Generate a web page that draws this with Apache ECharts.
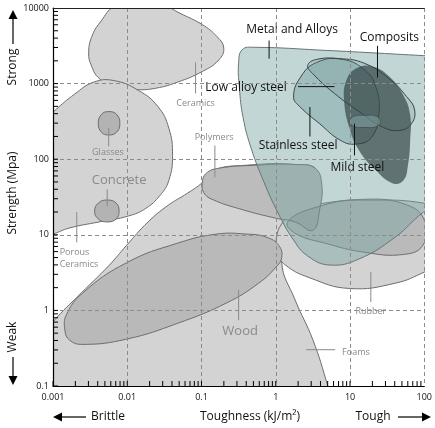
<!DOCTYPE html>
<html>
<head>
<meta charset="utf-8">
<script src="https://cdn.jsdelivr.net/npm/echarts@6/dist/echarts.min.js"></script>
<style>
  html, body { margin: 0; padding: 0; background: #fff; }
  #chart { width: 435px; height: 428px; }
</style>
</head>
<body>
<div id="chart"></div>
<script>
// Axis tick labels
const xTickLabels = ['0.001', '0.01', '0.1', '1', '10', '100'];
const yTickLabels = ['0.1', '1', '10', '100', '1000', '10000'];

// Material property envelopes.
// Each outline point is [log10 toughness (kJ/m²), log10 strength (MPa)].
const ceramicsRegion = [[-2.52,3.41],[-2.47,3.64],[-2.35,3.83],[-2.18,4.02],[-1.88,4.10],[-1.56,4.06],[-1.29,3.93],[-0.99,3.78],[-0.79,3.62],[-0.70,3.47],[-0.77,3.31],[-0.99,3.16],[-1.32,3.02],[-1.61,2.94],[-1.88,2.92],[-2.18,2.96],[-2.38,3.07],[-2.48,3.23]];
const masonryRegion = [[-3.24,2.41],[-2.97,2.65],[-2.71,2.86],[-2.45,3.02],[-2.18,3.04],[-1.85,2.91],[-1.59,2.70],[-1.44,2.41],[-1.39,2.05],[-1.44,1.72],[-1.56,1.52],[-1.75,1.35],[-1.98,1.25],[-2.38,1.17],[-2.78,1.09],[-3.0,1.01],[-3.24,0.95]];
const glassesRegion = [[-2.39,2.47],[-2.35,2.59],[-2.25,2.63],[-2.14,2.59],[-2.10,2.47],[-2.14,2.36],[-2.25,2.32],[-2.35,2.36]];
const concreteRegion = [[-2.44,1.31],[-2.39,1.42],[-2.27,1.46],[-2.15,1.42],[-2.11,1.31],[-2.15,1.21],[-2.27,1.17],[-2.39,1.21]];
const foamsRegion = [[-3.24,-0.46],[-3.0,-0.15],[-2.62,0.23],[-2.25,0.59],[-2.01,0.86],[-1.72,1.17],[-1.45,1.39],[-1.19,1.55],[-0.99,1.69],[-0.85,1.85],[-0.40,1.92],[0.26,1.93],[0.55,1.85],[0.42,1.39],[0.21,0.93],[0.08,0.64],[0.26,0.14],[0.50,-0.39],[0.70,-1.0],[0.74,-1.19],[-3.24,-1.19]];
const rubberRegion = [[0.0,0.90],[0.07,1.13],[0.26,1.30],[0.66,1.42],[1.32,1.46],[1.99,1.42],[2.18,1.33],[2.18,0.60],[2.01,0.51],[1.61,0.36],[0.99,0.29],[0.46,0.43],[0.13,0.60],[0.01,0.77]];
const woodRegion = [[-2.84,-0.26],[-2.78,-0.39],[-2.60,-0.45],[-2.01,-0.38],[-1.32,-0.17],[-0.66,0.10],[-0.23,0.36],[0.0,0.57],[0.08,0.70],[0.04,0.86],[-0.13,0.97],[-0.40,1.01],[-0.79,1.01],[-1.32,0.89],[-2.01,0.63],[-2.60,0.23],[-2.82,-0.06]];
const polymersRegion = [[-0.99,1.68],[-0.94,1.81],[-0.77,1.88],[-0.27,1.92],[0.26,1.93],[0.53,1.88],[0.62,1.66],[0.59,1.33],[0.50,1.06],[0.26,1.17],[0.0,1.22],[-0.44,1.33],[-0.86,1.47],[-0.97,1.56]];
const elastomersRegion = [[0.16,1.17],[0.53,1.36],[1.19,1.47],[1.78,1.39],[2.01,1.17],[1.98,0.86],[1.72,0.74],[1.19,0.77],[0.66,0.89],[0.26,1.02]];
const metalsRegion = [[-0.50,3.28],[-0.45,3.45],[-0.29,3.48],[0.66,3.44],[1.99,3.37],[2.18,3.36],[2.18,1.39],[1.99,1.30],[1.61,0.97],[1.12,0.68],[0.73,0.60],[0.43,0.72],[0.24,0.93],[0.03,1.29],[-0.16,1.70],[-0.33,2.14],[-0.44,2.55],[-0.49,2.95]];
const stainlessRegion = [[0.24,2.82],[0.33,3.08],[0.55,3.28],[0.90,3.32],[1.21,3.17],[1.35,2.95],[1.39,2.61],[1.29,2.29],[1.08,2.20],[0.87,2.25],[0.59,2.47],[0.33,2.69]];
const lowAlloyRegion = [[0.43,3.24],[0.55,3.32],[0.86,3.33],[1.19,3.27],[1.52,3.07],[1.76,2.83],[1.87,2.65],[1.82,2.46],[1.66,2.38],[1.45,2.42],[1.15,2.61],[0.79,2.87],[0.50,3.13]];
const compositesRegion = [[0.95,3.04],[1.08,3.20],[1.29,3.23],[1.52,3.10],[1.72,2.84],[1.81,2.58],[1.81,2.25],[1.78,1.92],[1.72,1.72],[1.58,1.68],[1.35,1.85],[1.12,2.12],[0.99,2.42],[0.92,2.78]];
const mildSteelRegion = [[0.99,2.50],[1.06,2.57],[1.20,2.58],[1.35,2.57],[1.41,2.50],[1.35,2.43],[1.20,2.42],[1.06,2.43]];

// Region labels: text, anchor [log10 x, log10 y], leader line [[x1,y1],[x2,y2]] in the same units
const labelTexts = ['Metal and Alloys', 'Composits', 'Low alloy steel', 'Stainless steel', 'Mild steel',
  'Ceramics', 'Glasses', 'Concrete', 'Porous\nCeramics', 'Polymers', 'Wood', 'Rubber', 'Foams'];
const labelAnchors = [[0.22,3.72],[1.53,3.61],[-0.40,2.95],[0.30,2.18],[1.10,1.89],
  [-1.08,2.74],[-2.26,2.09],[-2.11,1.72],[-2.91,0.69],[-0.83,2.29],[-0.48,-0.27],[1.28,-0.02],[1.08,-0.55]];
const labelLeaders = [
  [[-0.09,3.57],[-0.09,3.33]],
  [[1.37,3.50],[1.37,3.08]],
  [[0.30,2.96],[0.79,2.96]],
  [[0.46,2.69],[0.46,2.30]],
  [[1.06,2.47],[1.06,2.05]],
  [[-1.08,3.28],[-1.08,2.87]],
  [[-2.25,2.41],[-2.25,2.17]],
  [[-2.27,1.60],[-2.27,1.38]],
  [[-2.68,1.30],[-2.68,0.90]],
  [[-0.82,2.18],[-0.82,1.76]],
  [[-0.50,0.27],[-0.50,-0.13]],
  [[1.28,0.51],[1.28,0.11]],
  [[0.41,-0.52],[0.80,-0.52]]
];

const FONT = '"Open Sans", "DejaVu Sans", sans-serif';
const pow = v => Math.pow(10, v);
const toData = pts => pts.map(p => [pow(p[0]), pow(p[1])]);

const regions = [
  { pts: ceramicsRegion,   fill: '#d3d3d3', stroke: '#6e6e6e' },
  { pts: masonryRegion,    fill: '#d3d3d3', stroke: '#6e6e6e' },
  { pts: glassesRegion,    fill: '#b3b3b3', stroke: '#6e6e6e' },
  { pts: concreteRegion,   fill: '#b3b3b3', stroke: '#6e6e6e' },
  { pts: foamsRegion,      fill: '#d3d3d3', stroke: '#6e6e6e' },
  { pts: rubberRegion,     fill: '#d3d3d3', stroke: '#6e6e6e' },
  { pts: woodRegion,       fill: '#b9b9b9', stroke: '#6e6e6e' },
  { pts: polymersRegion,   fill: '#bcbcbc', stroke: '#6e6e6e' },
  { pts: elastomersRegion, fill: 'rgba(90,90,90,0.2)', stroke: '#6e6e6e' },
  { pts: metalsRegion,     fill: 'rgba(120,165,165,0.45)', stroke: '#6a7575' },
  { pts: stainlessRegion,  fill: 'rgba(100,145,145,0.35)', stroke: '#3a4444' },
  { pts: lowAlloyRegion,   fill: 'rgba(110,150,150,0.25)', stroke: '#3a4444' },
  { pts: compositesRegion, fill: 'rgba(50,66,66,0.68)', stroke: null },
  { pts: mildSteelRegion,  fill: 'rgba(140,175,175,0.45)', stroke: '#4a5555' }
];

function regionSeries(region) {
  const data = toData(region.pts);
  return {
    type: 'custom',
    coordinateSystem: 'cartesian2d',
    clip: true,
    silent: true,
    data: data,
    renderItem: function (params, api) {
      if (params.dataIndex !== 0) return null;
      return {
        type: 'polygon',
        shape: { points: data.map(d => api.coord(d)), smooth: 0.45 },
        style: {
          fill: region.fill,
          stroke: region.stroke || 'none',
          lineWidth: region.stroke ? 1 : 0
        }
      };
    }
  };
}

// Ticks inside the axes, at 1..9 of each decade
const xMinorValues = [];
for (let e = -3; e <= 1; e++) for (let m = 1; m <= 9; m++) xMinorValues.push(m * pow(e));
const yMinorValues = [];
for (let e = -1; e <= 3; e++) for (let m = 1; m <= 9; m++) yMinorValues.push(m * pow(e));

const tickSeries = {
  type: 'custom',
  coordinateSystem: 'cartesian2d',
  silent: true,
  z: 20,
  data: [0],
  renderItem: function (params, api) {
    const children = [];
    xMinorValues.forEach(v => {
      const p = api.coord([v, 0.1]);
      children.push({ type: 'line', shape: { x1: p[0], y1: p[1], x2: p[0], y2: p[1] - 5 }, style: { stroke: '#000', lineWidth: 1 } });
    });
    yMinorValues.forEach(v => {
      const p = api.coord([0.001, v]);
      children.push({ type: 'line', shape: { x1: p[0], y1: p[1], x2: p[0] + 5, y2: p[1] }, style: { stroke: '#000', lineWidth: 1 } });
    });
    return { type: 'group', children: children };
  }
};

const darkLabels = 5;
const labelSeries = {
  type: 'custom',
  coordinateSystem: 'cartesian2d',
  silent: true,
  z: 5,
  data: [0],
  renderItem: function (params, api) {
    const children = [];
    labelTexts.forEach((t, i) => {
      const dark = i < darkLabels;
      const big = (t === 'Concrete' || t === 'Wood');
      const a = api.coord([pow(labelAnchors[i][0]), pow(labelAnchors[i][1])]);
      const l0 = api.coord([pow(labelLeaders[i][0][0]), pow(labelLeaders[i][0][1])]);
      const l1 = api.coord([pow(labelLeaders[i][1][0]), pow(labelLeaders[i][1][1])]);
      children.push({
        type: 'line',
        shape: { x1: l0[0], y1: l0[1], x2: l1[0], y2: l1[1] },
        style: { stroke: dark ? '#111' : '#8a8a8a', lineWidth: 1 }
      });
      const porous = t.indexOf('\n') >= 0;
      children.push({
        type: 'text',
        x: a[0], y: a[1],
        style: {
          text: t,
          fill: dark ? '#111' : '#8a8a8a',
          fontFamily: FONT,
          fontSize: dark ? 12 : (big ? 13 : 9),
          lineHeight: porous ? 12 : undefined,
          align: porous ? 'left' : 'center',
          verticalAlign: 'middle'
        }
      });
    });
    return { type: 'group', children: children };
  }
};

function arrow(x1, y1, x2, y2) {
  const dx = x2 - x1, dy = y2 - y1;
  const len = Math.sqrt(dx * dx + dy * dy);
  const ux = dx / len, uy = dy / len;
  const hl = 9, hw = 4.5;
  const bx = x2 - ux * hl, by = y2 - uy * hl;
  return [
    { type: 'line', shape: { x1: x1, y1: y1, x2: bx, y2: by }, style: { stroke: '#000', lineWidth: 1.2 }, z: 30 },
    { type: 'polygon', shape: { points: [[x2, y2], [bx - uy * hw, by + ux * hw], [bx + uy * hw, by - ux * hw]] }, style: { fill: '#000' }, z: 30 }
  ];
}

const textStyle = size => ({ fill: '#111', fontFamily: FONT, fontSize: size });

const chart = echarts.init(document.getElementById('chart'), null, { renderer: 'canvas' });
chart.setOption({
  animation: false,
  backgroundColor: '#fff',
  grid: { left: 53, right: 4, top: 8, bottom: 42, show: false },
  xAxis: [{
    type: 'log', logBase: 10, min: 0.001, max: 100, z: 10,
    axisLine: { show: true, lineStyle: { color: '#000', width: 1.2 } },
    axisTick: { show: false },
    axisLabel: {
      color: '#111', fontSize: 9, fontFamily: FONT, margin: 7,
      formatter: v => xTickLabels[Math.round(Math.log10(v)) + 3]
    },
    splitLine: { show: true, lineStyle: { color: '#8c8c8c', type: [4, 3], width: 1 } }
  }, {
    type: 'log', logBase: 10, min: 0.001, max: 100, position: 'top', z: 10,
    axisLine: { show: true, onZero: false, lineStyle: { color: '#222', width: 1 } },
    axisTick: { show: false }, axisLabel: { show: false }, splitLine: { show: false }
  }],
  yAxis: [{
    type: 'log', logBase: 10, min: 0.1, max: 10000, z: 10,
    axisLine: { show: true, lineStyle: { color: '#000', width: 1.2 } },
    axisTick: { show: false },
    axisLabel: {
      color: '#111', fontSize: 9, fontFamily: FONT, margin: 4,
      formatter: v => yTickLabels[Math.round(Math.log10(v)) + 1]
    },
    splitLine: { show: true, lineStyle: { color: '#8c8c8c', type: [4, 3], width: 1 } }
  }],
  series: regions.map(regionSeries).concat([labelSeries, tickSeries]),
  graphic: [
    { type: 'text', x: 13, y: 193, rotation: Math.PI / 2, z: 30,
      style: Object.assign(textStyle(12), { text: 'Strength (Mpa)', align: 'center', verticalAlign: 'middle' }) },
    { type: 'text', x: 13, y: 67, rotation: Math.PI / 2, z: 30,
      style: Object.assign(textStyle(12), { text: 'Strong', align: 'center', verticalAlign: 'middle' }) },
    { type: 'text', x: 13, y: 337, rotation: Math.PI / 2, z: 30,
      style: Object.assign(textStyle(12), { text: 'Weak', align: 'center', verticalAlign: 'middle' }) },
    { type: 'text', x: 250, y: 417, z: 30,
      style: Object.assign(textStyle(12), { text: 'Toughness (kJ/m²)', align: 'center', verticalAlign: 'middle' }) },
    { type: 'text', x: 108, y: 417, z: 30,
      style: Object.assign(textStyle(12), { text: 'Brittle', align: 'center', verticalAlign: 'middle' }) },
    { type: 'text', x: 373, y: 417, z: 30,
      style: Object.assign(textStyle(12), { text: 'Tough', align: 'center', verticalAlign: 'middle' }) }
  ].concat(arrow(13, 44, 13, 10), arrow(13, 357, 13, 385), arrow(86, 417, 53, 417), arrow(398, 417, 431, 417))
});
</script>
</body>
</html>
